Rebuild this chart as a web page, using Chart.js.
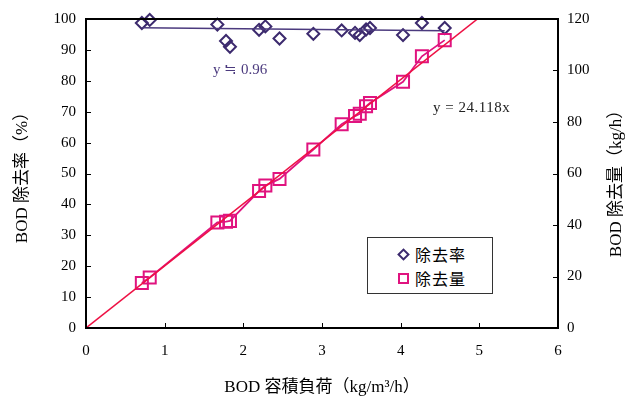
<!DOCTYPE html>
<html>
<head>
<meta charset="utf-8">
<script src="https://cdn.jsdelivr.net/npm/chart.js@4"></script>
<style>
  body { margin: 0; background: #fff; }
  #wrap { position: relative; width: 632px; height: 403px; }
  .note { position: absolute; font: 15px "Liberation Serif", "Noto Sans CJK JP"; white-space: nowrap; line-height: 1; }
  #legend { position: absolute; left: 367px; top: 237px; width: 126px; height: 57px; border: 1px solid #333; background: #fff; box-sizing: border-box; }
  .item { position: absolute; left: 30px; font: 16px "Noto Sans CJK JP"; line-height: 1; letter-spacing: 1px; }
  .mk { position: absolute; box-sizing: border-box; }
</style>
</head>
<body>
<div id="wrap">
  <canvas id="bodChart" width="632" height="403"></canvas>
  <div class="note" style="left:213px; top:62px; color:#4b3a7e;">y ≒ 0.96</div>
  <div class="note" style="left:433px; top:100px; color:#222; letter-spacing:0.5px;">y = 24.118x</div>
  <div id="legend">
    <div class="mk" style="left:31px; top:12px; width:9px; height:9px; border:2px solid #3c2a6e; transform:rotate(45deg);"></div>
    <div class="item" style="left:47px; top:8px;">除去率</div>
    <div class="mk" style="left:30px; top:35px; width:11px; height:11px; border:2px solid #e0137f;"></div>
    <div class="item" style="left:47px; top:32px;">除去量</div>
  </div>
</div>
<script>
// BOD volumetric load (kg/m3/h)
const loadX = [0.71, 0.81, 1.67, 1.78, 1.83, 2.20, 2.28, 2.46, 2.89, 3.25, 3.42, 3.48, 3.56, 3.61, 4.03, 4.27, 4.56];
// BOD removal rate (%)
const removalRate = [98.7, 99.7, 98.2, 92.9, 91.0, 96.5, 97.6, 93.7, 95.2, 96.3, 95.5, 94.8, 96.6, 97.1, 94.8, 98.7, 97.1];
// BOD removal amount (kg/h)
const removalAmount = [17.5, 19.6, 41.0, 41.3, 41.6, 53.2, 55.3, 57.9, 69.3, 79.1, 82.3, 83.2, 86.1, 87.4, 95.6, 105.5, 111.8];
// trend lines
const rateTrendX = [0.71, 4.56];
const rateTrendY = [97.2, 96.2];
const amountSlope = 24.118;
const amountTrendX = [0, 5];

const xTicks = [0, 1, 2, 3, 4, 5, 6];
const rateTicks = [0, 10, 20, 30, 40, 50, 60, 70, 80, 90, 100];
const amountTicks = [0, 20, 40, 60, 80, 100, 120];
const rightTitle = 'BOD 除去量（kg/h）';

const serif = '"Liberation Serif", "Noto Sans CJK JP"';

const toPoints = (xs, ys) => xs.map((x, i) => ({ x: x, y: ys[i] }));

// frame, inward tick marks and the right axis title (reads bottom to top)
const framePlugin = {
    id: 'frame',
    afterDatasetsDraw(chart) {
        const { ctx, chartArea: a, scales } = chart;
        ctx.save();
        ctx.strokeStyle = '#000';
        ctx.lineWidth = 1;
        ctx.beginPath();
        xTicks.forEach(v => {
            const px = Math.round(scales.x.getPixelForValue(v)) + 0.5;
            ctx.moveTo(px, a.bottom); ctx.lineTo(px, a.bottom - 5);
        });
        rateTicks.forEach(v => {
            const py = Math.round(scales.y.getPixelForValue(v)) + 0.5;
            ctx.moveTo(a.left, py); ctx.lineTo(a.left + 5, py);
        });
        amountTicks.forEach(v => {
            const py = Math.round(scales.y2.getPixelForValue(v)) + 0.5;
            ctx.moveTo(a.right, py); ctx.lineTo(a.right - 5, py);
        });
        ctx.stroke();
        ctx.lineWidth = 2;
        ctx.strokeRect(a.left, a.top, a.right - a.left, a.bottom - a.top);

        ctx.translate(617, (a.top + a.bottom) / 2 + 6);
        ctx.rotate(-Math.PI / 2);
        ctx.fillStyle = '#000';
        ctx.font = '17px ' + serif;
        ctx.textAlign = 'center';
        ctx.textBaseline = 'middle';
        ctx.fillText(rightTitle, 0, 0);
        ctx.restore();
    }
};

new Chart(document.getElementById('bodChart').getContext('2d'), {
    type: 'scatter',
    data: {
        datasets: [{
            label: 'trend amount',
            data: amountTrendX.map(x => ({ x: x, y: amountSlope * x })),
            yAxisID: 'y2',
            showLine: true,
            borderColor: '#ee1144',
            borderWidth: 1.5,
            pointRadius: 0
        }, {
            label: '除去量',
            data: toPoints(loadX, removalAmount),
            yAxisID: 'y2',
            showLine: true,
            clip: false,
            borderColor: '#e0137f',
            borderWidth: 1.8,
            pointStyle: 'rect',
            pointRadius: 8.5,
            pointBorderWidth: 2,
            pointBorderColor: '#e0137f',
            pointBackgroundColor: 'rgba(0,0,0,0)'
        }, {
            label: 'trend rate',
            data: toPoints(rateTrendX, rateTrendY),
            yAxisID: 'y',
            showLine: true,
            borderColor: '#4b3a7e',
            borderWidth: 1.5,
            pointRadius: 0
        }, {
            label: '除去率',
            data: toPoints(loadX, removalRate),
            yAxisID: 'y',
            clip: false,
            pointStyle: 'rectRot',
            pointRadius: 6,
            pointBorderWidth: 2,
            pointBorderColor: '#3c2a6e',
            pointBackgroundColor: 'rgba(0,0,0,0)'
        }]
    },
    options: {
        responsive: false,
        animation: false,
        layout: { padding: { top: 12, left: 0, right: 0, bottom: 0 } },
        plugins: {
            legend: { display: false },
            tooltip: { enabled: false }
        },
        scales: {
            x: {
                type: 'linear',
                min: 0,
                max: 6,
                afterBuildTicks: s => { s.ticks = xTicks.map(v => ({ value: v })); },
                afterFit: s => { s.height = 75; },
                grid: { display: false, drawTicks: false },
                border: { display: false },
                ticks: { padding: 14, color: '#000', font: { family: serif, size: 15 } },
                title: { display: true, text: 'BOD 容積負荷（kg/m³/h）', color: '#000', padding: { top: 0, bottom: 5 }, font: { family: serif, size: 17 } }
            },
            y: {
                position: 'left',
                min: 0,
                max: 100,
                afterBuildTicks: s => { s.ticks = rateTicks.map(v => ({ value: v })); },
                afterFit: s => { s.width = 86; },
                grid: { display: false, drawTicks: false },
                border: { display: false },
                ticks: { padding: 10, color: '#000', font: { family: serif, size: 15 } },
                title: { display: true, text: 'BOD 除去率（%）', color: '#000', padding: { top: 12, bottom: 0 }, font: { family: serif, size: 17 } }
            },
            y2: {
                position: 'right',
                min: 0,
                max: 120,
                afterBuildTicks: s => { s.ticks = amountTicks.map(v => ({ value: v })); },
                afterFit: s => { s.width = 74; },
                grid: { display: false, drawTicks: false },
                border: { display: false },
                ticks: { padding: 9, color: '#000', font: { family: serif, size: 15 } },
                title: { display: false }
            }
        }
    },
    plugins: [framePlugin]
});
</script>
</body>
</html>
